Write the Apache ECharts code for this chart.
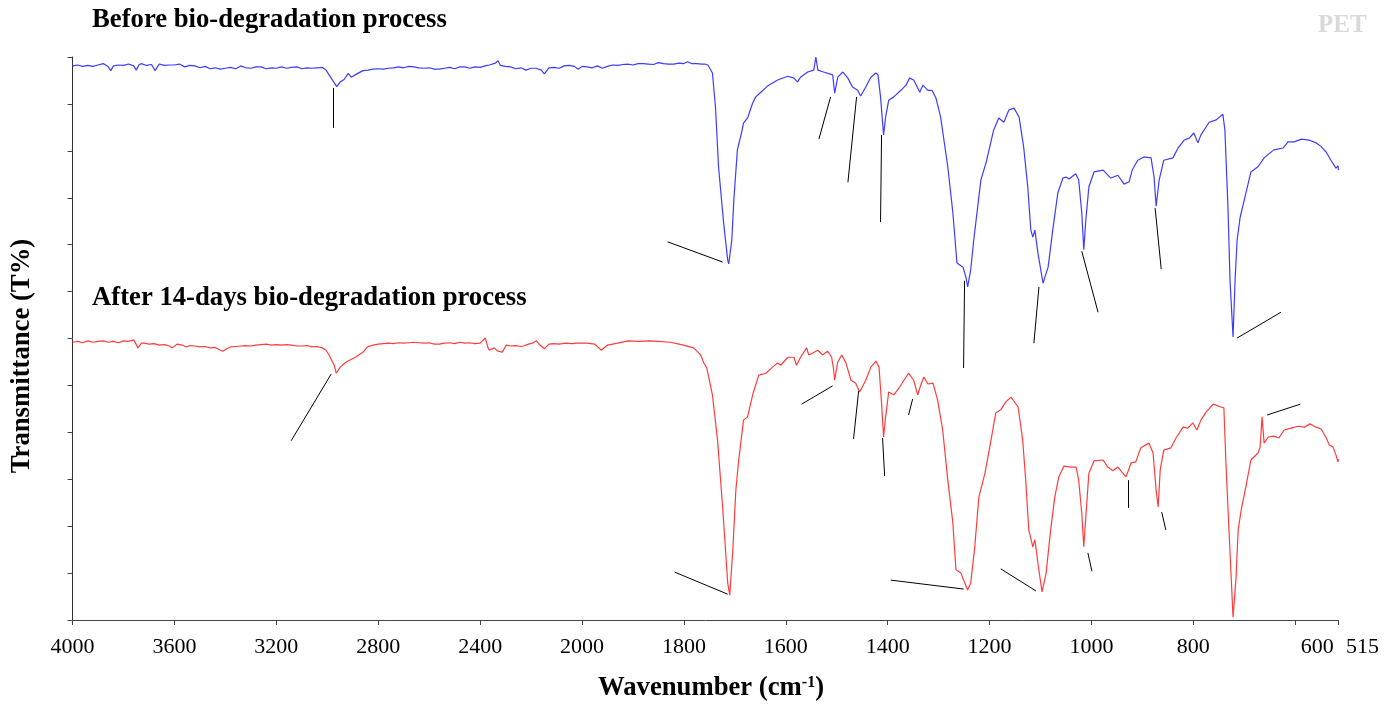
<!DOCTYPE html>
<html><head><meta charset="utf-8">
<script src="https://cdn.jsdelivr.net/npm/echarts@6/dist/echarts.min.js"></script>
<style>html,body{margin:0;padding:0;background:#fff}#c{width:1399px;height:706px}</style>
</head><body><div id="c"></div>
<script>
const FONT = '"Liberation Serif","Times New Roman",serif';

// x tick labels (wavenumber, cm-1) - axis is compressed x2 above 2000
const tickLabels = [4000,3600,3200,2800,2400,2000,1800,1600,1400,1200,1000,800,600,515];

// [wavenumber, transmittance (arbitrary units, stacked)]
const beforeData = [[4000,118.1],[3980,118.3],[3960,118.0],[3940,118.2],[3920,118.0],[3900,118.3],[3880,118.6],[3860,117.9],[3850,117.1],[3840,118.1],[3820,118.3],[3800,118.2],[3780,118.5],[3760,118.1],[3750,117.2],[3740,118.3],[3730,118.6],[3710,118.2],[3690,118.4],[3676,117.1],[3660,118.5],[3640,118.2],[3620,118.3],[3600,118.3],[3580,118.5],[3560,117.9],[3540,118.2],[3520,118.1],[3500,117.7],[3480,118.0],[3460,117.5],[3440,117.7],[3420,117.4],[3400,117.6],[3380,117.8],[3360,117.5],[3340,118.1],[3320,117.7],[3300,117.6],[3280,117.9],[3260,117.9],[3240,117.5],[3220,117.7],[3200,117.6],[3180,117.9],[3160,117.6],[3140,117.8],[3120,117.9],[3100,117.5],[3080,117.7],[3060,117.6],[3040,117.7],[3020,117.8],[3005,117.2],[2993,116.2],[2975,114.7],[2963,113.7],[2949,114.7],[2934,115.2],[2918,116.5],[2906,115.7],[2884,116.4],[2860,117.1],[2840,117.2],[2820,117.4],[2800,117.5],[2780,117.4],[2760,117.6],[2740,117.7],[2720,117.9],[2700,117.7],[2680,118.0],[2660,117.9],[2640,117.7],[2620,117.6],[2600,117.7],[2580,117.4],[2560,117.4],[2540,117.6],[2520,117.8],[2500,117.5],[2480,117.9],[2460,117.9],[2440,117.6],[2420,117.9],[2400,117.8],[2380,118.1],[2364,118.3],[2340,118.7],[2330,119.2],[2320,118.2],[2300,118.0],[2280,117.9],[2260,117.5],[2240,117.7],[2220,117.2],[2200,117.6],[2180,117.6],[2160,117.2],[2148,116.4],[2130,117.7],[2110,117.8],[2090,117.6],[2070,118.1],[2050,118.2],[2030,118.0],[2015,117.4],[2000,118.0],[1990,117.9],[1980,117.7],[1970,118.1],[1960,117.6],[1950,118.0],[1940,118.3],[1930,118.2],[1920,118.4],[1910,118.5],[1900,118.3],[1890,118.6],[1880,118.6],[1870,118.5],[1860,118.4],[1850,118.8],[1840,118.6],[1830,118.5],[1820,118.5],[1810,118.7],[1800,118.6],[1793,119.0],[1785,118.6],[1775,118.6],[1765,118.5],[1759,118.5],[1753,118.3],[1744,116.6],[1738,109.3],[1732,96.6],[1722,84.6],[1714,76.7],[1712,75.9],[1706,81.0],[1702,89.5],[1695,100.2],[1687,103.8],[1683,105.9],[1675,107.0],[1665,110.2],[1659,111.5],[1649,112.5],[1636,113.8],[1616,115.1],[1596,115.9],[1584,115.5],[1577,114.7],[1571,115.7],[1557,116.8],[1545,117.2],[1541,120.0],[1537,117.2],[1526,116.8],[1508,116.2],[1504,112.3],[1498,115.7],[1488,116.8],[1478,115.5],[1469,113.6],[1459,112.9],[1453,111.7],[1443,113.6],[1433,115.7],[1423,116.6],[1419,116.2],[1414,111.5],[1408,103.4],[1404,107.2],[1398,110.8],[1388,111.5],[1374,112.9],[1364,114.0],[1357,115.5],[1349,115.1],[1341,113.4],[1337,112.5],[1331,114.0],[1321,112.9],[1313,112.9],[1305,111.2],[1296,107.2],[1282,96.6],[1272,86.8],[1264,76.1],[1252,75.2],[1246,72.9],[1243,71.0],[1237,74.6],[1231,81.0],[1217,93.8],[1207,97.4],[1192,104.4],[1182,107.0],[1172,106.1],[1162,108.7],[1152,109.1],[1142,107.2],[1133,100.8],[1125,92.3],[1119,83.1],[1115,81.6],[1111,83.1],[1105,78.2],[1095,71.8],[1085,75.2],[1076,83.1],[1066,91.0],[1056,94.2],[1050,94.4],[1044,94.0],[1031,95.1],[1025,93.8],[1019,86.8],[1015,78.9],[1011,85.3],[1005,92.3],[995,95.5],[977,95.9],[962,94.2],[948,94.8],[936,92.9],[926,93.4],[920,95.9],[909,98.0],[897,98.7],[883,98.5],[877,94.4],[873,88.2],[867,93.8],[858,98.0],[840,98.5],[830,100.6],[818,102.3],[808,102.7],[799,103.8],[791,101.7],[785,103.4],[769,106.1],[755,106.6],[742,107.8],[738,104.4],[732,88.0],[728,72.5],[722,60.3],[718,72.5],[714,81.0],[708,85.9],[700,89.5],[687,95.5],[673,96.6],[661,98.5],[642,100.2],[624,100.6],[614,101.9],[602,101.9],[588,102.5],[573,102.3],[559,101.7],[549,100.9],[539,99.7],[530,98.0],[520,96.3],[516,96.8],[515,95.9]];

const afterData = [[4000,59.2],[3980,59.4],[3960,59.1],[3940,59.5],[3920,59.2],[3900,59.4],[3880,59.5],[3860,59.2],[3840,59.4],[3820,59.1],[3800,59.5],[3780,59.4],[3760,59.7],[3743,58.0],[3730,59.0],[3719,59.0],[3700,58.8],[3680,58.9],[3660,58.6],[3640,58.7],[3620,58.4],[3609,58.0],[3590,58.8],[3570,58.6],[3554,58.2],[3540,58.5],[3520,58.4],[3500,58.2],[3480,58.3],[3460,58.0],[3440,58.1],[3420,57.5],[3410,57.3],[3395,57.8],[3380,58.2],[3360,58.3],[3340,58.4],[3320,58.5],[3300,58.4],[3280,58.6],[3260,58.7],[3240,58.8],[3220,58.6],[3200,58.7],[3180,58.6],[3160,58.7],[3140,58.6],[3120,58.4],[3100,58.4],[3080,58.5],[3060,58.2],[3040,58.3],[3020,58.0],[3005,57.5],[2993,56.5],[2973,54.3],[2965,52.6],[2949,53.9],[2926,55.0],[2890,56.0],[2859,57.1],[2843,58.2],[2820,58.6],[2800,58.8],[2780,58.9],[2760,59.0],[2740,58.9],[2720,59.1],[2700,59.0],[2680,59.1],[2660,59.2],[2640,59.1],[2620,59.0],[2600,59.1],[2580,58.8],[2560,58.8],[2540,59.0],[2520,59.1],[2500,58.9],[2480,59.2],[2460,59.0],[2440,59.1],[2420,58.9],[2400,59.0],[2380,60.1],[2370,58.2],[2364,57.5],[2345,58.0],[2330,57.3],[2313,57.1],[2297,58.6],[2280,58.4],[2260,58.5],[2240,58.3],[2230,58.4],[2210,58.8],[2195,59.0],[2179,59.5],[2165,58.6],[2148,57.8],[2130,58.8],[2110,58.9],[2090,58.8],[2065,59.0],[2040,58.9],[2020,59.0],[2000,59.0],[1991,59.0],[1975,58.8],[1962,57.5],[1950,58.6],[1930,59.0],[1909,59.5],[1890,59.4],[1867,59.5],[1850,59.4],[1826,59.2],[1801,58.6],[1781,58.0],[1767,56.5],[1761,54.8],[1755,53.7],[1744,48.0],[1734,38.4],[1724,24.1],[1714,7.9],[1710,5.3],[1704,14.9],[1698,27.7],[1693,33.5],[1683,42.6],[1675,43.3],[1665,48.0],[1653,52.2],[1639,52.6],[1626,53.9],[1616,54.8],[1610,54.3],[1596,56.0],[1584,56.0],[1579,54.3],[1571,56.0],[1559,58.0],[1555,56.5],[1547,56.9],[1537,57.5],[1528,56.5],[1518,57.3],[1510,56.0],[1506,53.3],[1504,51.1],[1498,55.0],[1490,56.5],[1482,54.8],[1472,51.1],[1463,50.5],[1455,48.6],[1443,51.1],[1433,53.9],[1423,55.2],[1417,53.9],[1412,46.2],[1408,39.0],[1404,43.3],[1398,48.6],[1388,48.0],[1378,49.4],[1368,51.1],[1359,52.6],[1349,51.1],[1341,48.0],[1335,50.1],[1329,51.8],[1321,50.3],[1311,50.5],[1302,46.9],[1292,40.5],[1282,29.8],[1272,20.7],[1266,10.7],[1256,10.0],[1251,8.5],[1243,6.4],[1237,7.9],[1229,15.6],[1221,26.2],[1209,31.3],[1197,38.4],[1188,44.1],[1178,44.8],[1168,46.5],[1158,47.5],[1144,45.4],[1135,38.4],[1129,29.8],[1123,19.2],[1115,15.6],[1111,17.1],[1105,12.1],[1097,6.0],[1089,10.0],[1080,19.2],[1072,26.2],[1064,30.5],[1054,32.8],[1040,32.6],[1030,32.6],[1025,29.8],[1019,22.8],[1015,15.6],[1011,22.0],[1005,31.3],[995,33.9],[977,34.1],[968,32.6],[958,31.8],[948,32.6],[940,31.5],[932,30.5],[922,33.5],[913,33.7],[903,36.7],[887,37.7],[879,35.6],[873,27.7],[869,24.1],[865,32.0],[858,36.2],[844,36.7],[834,38.8],[820,41.1],[811,40.9],[801,42.0],[793,40.5],[785,42.6],[775,44.3],[761,46.0],[746,45.4],[740,45.2],[736,33.5],[730,19.2],[722,0.6],[716,9.2],[712,19.2],[706,23.4],[697,28.3],[687,34.1],[673,35.6],[669,36.7],[665,43.3],[661,37.7],[653,39.0],[642,39.2],[632,38.8],[622,40.5],[608,40.9],[594,41.3],[582,41.1],[571,41.8],[559,41.1],[549,40.7],[539,38.8],[533,37.3],[526,36.9],[520,35.2],[516,33.7],[515,34.3]];

// peak leader lines: [wn1, T1, wn2, T2]
const beforeLeaders = [[2977,113.4,2977,104.9],[1832,80.6,1724,76.3],[1535,102.5,1512,111.5],[1478,93.3,1461,111.5],[1414,84.8,1412,103.4],[1251,53.7,1249,72.3],[1113,59.0,1103,71.0],[1019,78.6,987,65.6],[875,87.8,863,74.8],[714,60.1,628,65.6]];
const afterLeaders = [[3142,38.2,2985,52.4],[1818,10.2,1714,5.5],[1569,46.0,1508,49.9],[1467,38.6,1457,48.8],[1410,38.8,1406,30.7],[1359,43.7,1351,47.1],[1394,8.5,1251,6.6],[1178,10.9,1109,6.2],[1007,14.3,999,10.4],[928,29.8,928,23.9],[862,23.0,854,19.2],[655,43.7,590,46.0]];

// axis break: 4000-2000 drawn at half the scale of 2000-515
function toU(wn){ return wn >= 2000 ? (4000 - wn) / 2 : 1000 + (2000 - wn); }
function fromU(u){ return u <= 1000 ? 4000 - 2 * u : 2000 - (u - 1000); }
const tickU = tickLabels.map(toU);
const conv = d => d.map(p => [toU(p[0]), p[1]]);
const segs = m => m.map(s => [{coord:[toU(s[0]), s[1]]}, {coord:[toU(s[2]), s[3]]}]);

const leaderMark = m => ({
  silent: true, symbol: ['none','none'], label: {show:false},
  lineStyle: {color:'#000', width:1, type:'solid'},
  emphasis: {disabled:true}, animation:false, data: segs(m)
});

const BOLD = 'bold 26.7px ' + FONT;
const LBL = {fontFamily: FONT, fontSize: 22, color:'#000'};

const chart = echarts.init(document.getElementById('c'), null, {renderer:'canvas'});
chart.setOption({
  animation: false,
  backgroundColor: '#fff',
  grid: {left: 72.6, right: 60.5, top: 57, bottom: 86},
  xAxis: {
    type: 'value', min: 0, max: toU(515),
    axisLine: {show:true, lineStyle:{color:'#444', width:1}},
    axisTick: {show:true, customValues: tickU, length:5, lineStyle:{color:'#444'}},
    axisLabel: {customValues: tickU, margin: 16, fontFamily: FONT, fontSize: 22, color:'#000',
      formatter: v => {
        const w = Math.round(fromU(v));
        if (w === 515) return '{e|515}';
        if (w === 600) return '{s|600}';
        return String(w);
      },
      rich: {
        e: Object.assign({padding:[0,0,0,48]}, LBL),
        s: Object.assign({padding:[0,0,0,44]}, LBL)
      }},
    splitLine: {show:false}
  },
  yAxis: {
    type: 'value', min: 0, max: 120, interval: 10,
    axisLine: {show:true, lineStyle:{color:'#333', width:1}},
    axisTick: {show:true, length:5, lineStyle:{color:'#444'}},
    axisLabel: {show:false},
    splitLine: {show:false}
  },
  graphic: [
    {type:'text', left:92, top:7, style:{text:'Before bio-degradation process', font:BOLD, fill:'#000'}},
    {type:'text', left:92, top:285, style:{text:'After 14-days bio-degradation process', font:BOLD, fill:'#000'}},
    {type:'text', left:1318, top:13, style:{text:'PET', font:'bold 25px ' + FONT, fill:'#d9d9d9'}},
    {type:'text', x:22, y:356, rotation: Math.PI / 2,
     style:{text:'Transmittance (T%)', font:BOLD, fill:'#000', align:'center', verticalAlign:'middle'}},
    {type:'text', x:711, y:688,
     style:{text:'{a|Wavenumber (cm}{b|-1}{a|)}', align:'center', verticalAlign:'middle', fill:'#000',
       rich:{
         a:{fontFamily:FONT, fontSize:26.7, fontWeight:'bold', fill:'#000'},
         b:{fontFamily:FONT, fontSize:16, fontWeight:'bold', fill:'#000', verticalAlign:'top'}
       }}}
  ],
  series: [
    {type:'line', name:'Before', data: conv(beforeData), showSymbol:false, symbol:'none',
     lineStyle:{color:'#3c3cff', width:1.2}, itemStyle:{color:'#3c3cff'}, silent:true,
     markLine: leaderMark(beforeLeaders)},
    {type:'line', name:'After', data: conv(afterData), showSymbol:false, symbol:'none',
     lineStyle:{color:'#ff3c3c', width:1.2}, itemStyle:{color:'#ff3c3c'}, silent:true,
     markLine: leaderMark(afterLeaders)}
  ]
});
</script></body></html>
